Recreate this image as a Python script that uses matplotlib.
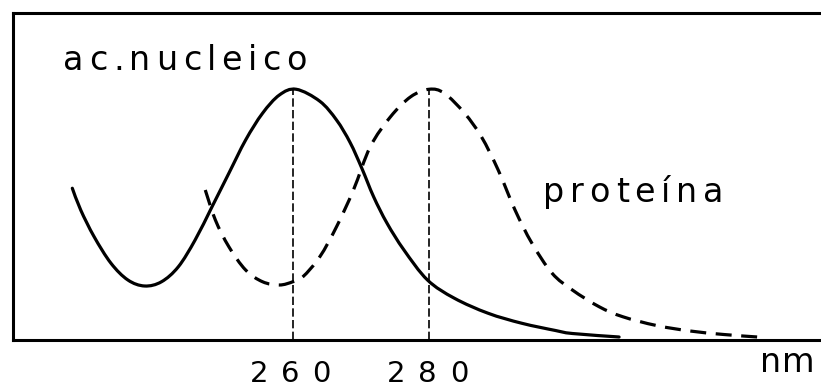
import numpy as np
import matplotlib
matplotlib.use("Agg")
import matplotlib.pyplot as plt
from matplotlib.path import Path
from matplotlib.patches import PathPatch
from matplotlib.transforms import IdentityTransform

# --- datos (nm, absorbancia relativa) ---
nuc_nm = [227.66, 228.89, 230.86, 233.33, 235.81, 238.27, 240.74, 243.21, 245.67,
          248.15, 250.62, 253.08, 255.56, 258.03, 260.49, 263.96, 266.41, 268.40,
          270.12, 271.85, 273.82, 276.30, 279.75, 283.70, 288.64, 293.58, 298.52,
          301.00, 307.85]
nuc_abs = [0.607, 0.520, 0.413, 0.307, 0.240, 0.216, 0.233, 0.293, 0.400,
           0.533, 0.667, 0.800, 0.907, 0.980, 1.003, 0.955, 0.880, 0.790,
           0.687, 0.573, 0.467, 0.360, 0.240, 0.167, 0.107, 0.067, 0.038,
           0.026, 0.012]

prot_nm = [247.16, 248.64, 250.62, 253.08, 255.56, 258.03, 260.00, 261.48, 263.96,
           266.41, 268.89, 271.36, 274.33, 277.29, 280.00, 282.22, 285.19, 287.66,
           290.12, 292.59, 295.07, 298.03, 301.00, 304.93, 308.40, 313.33, 318.27,
           323.21, 328.15]
prot_abs = [0.600, 0.480, 0.373, 0.280, 0.233, 0.220, 0.233, 0.253, 0.333,
            0.453, 0.600, 0.773, 0.893, 0.973, 1.003, 0.987, 0.907, 0.813,
            0.680, 0.520, 0.387, 0.267, 0.200, 0.133, 0.093, 0.058, 0.036,
            0.022, 0.012]

peaks = [260, 280]
peak_labels = ["260", "280"]

fig = plt.figure(figsize=(8.21, 3.87), dpi=100)
W, H = 821, 387
ax = fig.add_axes([13 / W, (H - 340) / H, 1 - 13 / W + 0.01, 327 / H])
ax.set_xlim(218.96, 338.67)
ax.set_ylim(0, 1.308)


# curva suave (Catmull-Rom -> Bezier) que pasa por los puntos leídos
def smooth_path(xs, ys):
    p = np.column_stack([xs, ys])
    p = np.vstack([p[0], p, p[-1]])
    verts = [p[1]]
    codes = [Path.MOVETO]
    for i in range(1, len(p) - 2):
        c1 = p[i] + (p[i + 1] - p[i - 1]) / 6
        c2 = p[i + 1] - (p[i + 2] - p[i]) / 6
        verts += [c1, c2, p[i + 1]]
        codes += [Path.CURVE4] * 3
    return Path(verts, codes)


ax.add_patch(PathPatch(smooth_path(nuc_nm, nuc_abs), fill=False,
                       ec="black", lw=2.3, capstyle="round"))
ax.add_patch(PathPatch(smooth_path(prot_nm, prot_abs), fill=False,
                       ec="black", lw=2.3, linestyle=(0, (5, 3))))
for p in peaks:
    ax.vlines(p, 0, 1.0, color="black", lw=1.2, linestyles=(0, (5, 2)))

ax.set_xticks([])
ax.set_yticks([])
for s in ("left", "top", "bottom"):
    ax.spines[s].set_linewidth(2.2)
ax.spines["right"].set_visible(False)

renderer = fig.canvas.get_renderer()


# texto con espaciado entre letras (como en el original)
def spaced(x0, x1, y, s, size):
    ts = [fig.text(0, y, c, transform=IdentityTransform(), fontsize=size,
                   va="baseline") for c in s]
    ws = [t.get_window_extent(renderer).width for t in ts]
    gap = (x1 - x0 - sum(ws)) / max(len(s) - 1, 1)
    x = x0
    for t, w in zip(ts, ws):
        t.set_x(x)
        x += w + gap


spaced(63, 307, H - 70, "ac.nucleico", 24)
spaced(543, 723, H - 202, "proteína", 24)
spaced(250, 330, H - 382, peak_labels[0], 21)
spaced(387, 468, H - 382, peak_labels[1], 21)
spaced(760, 815, H - 372, "nm", 24)

fig.savefig("out.png", dpi=100)
